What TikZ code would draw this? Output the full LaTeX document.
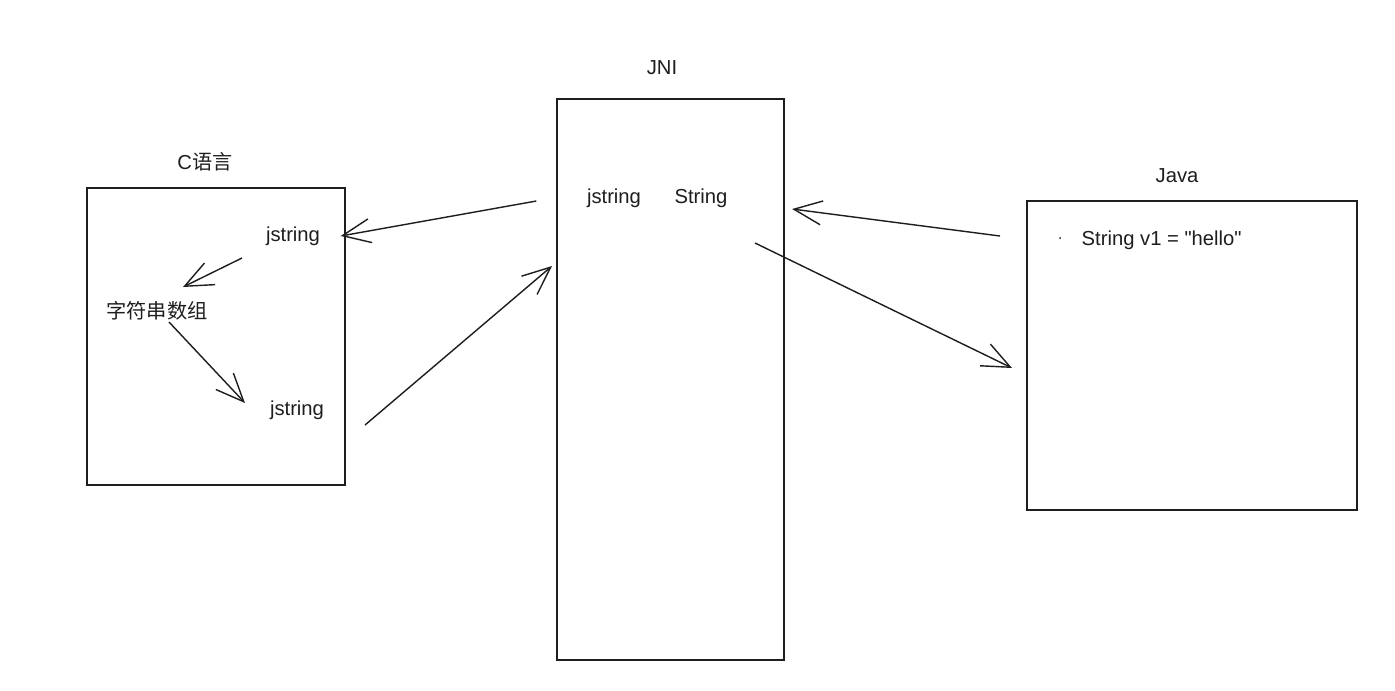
\documentclass[tikz,border=0pt]{standalone}
\usepackage{fontspec}
\setmainfont{Liberation Sans}[Ligatures=TeXOff]
\newfontfamily\cjk{Noto Sans CJK SC}
\usetikzlibrary{arrows.meta, positioning, calc}
\definecolor{ink}{HTML}{1E1E1E}
\tikzset{
  box/.style={draw=ink, line width=0.5pt, inner sep=0pt},
  lbl/.style={text=ink, inner sep=0pt, font=\fontsize{5.75pt}{6.9pt}\selectfont},
  link/.style={->, draw=ink, line width=0.4pt},
}

\begin{document}
\begin{tikzpicture}[x=0.01cm, y=-0.01cm, >={Straight Barb[length=2.8mm, width=2.4mm]}]

% Background
\useasboundingbox[fill=white] (0,0) rectangle (1395,690);

% C side
\node[box, minimum width=2.58cm, minimum height=2.97cm] (cbox) at (216,336.5) {};
\node[lbl] (ctitle) at (205,162) {C{\cjk 语言}};
\node[lbl] (cjs1) at (293,236) {jstring};
\node[lbl] (chars) at (157,311) {\cjk 字符串数组};
\node[lbl] (cjs2) at (297,410) {jstring};

% JNI
\node[box, minimum width=2.27cm, minimum height=5.61cm] (jni) at (670.5,379.5) {};
\node[lbl] (jnititle) at (662,68) {JNI};
\node[lbl] (jnijs) at (614,198) {jstring};
\node[lbl] (jnistr) at (701,198) {String};

% Java side
\node[box, minimum width=3.30cm, minimum height=3.09cm] (jv) at (1192,355.5) {};
\node[lbl] (jvtitle) at (1177,176) {Java};
\node[lbl, anchor=west] (code) at (1081,240) {String v1 = "hello"};
\fill[ink] (1060,238) circle (1);

% Arrows
\draw[link] ($(jnijs.west)+(-50,3)$) -- ($(cjs1.east)+(20,0)$);
\draw[link] ($(cjs1)+(-51,22)$) -- ($(chars)+(26,-24)$);
\draw[link] ($(chars)+(12,11)$) -- ($(cjs2)+(-52,-7)$);
\draw[link] ($(cjs2)+(68,15)$) -- ($(jnijs)+(-62,68)$);
\draw[link] ($(code.west)+(-81,-4)$) -- ($(jnistr.east)+(64,11)$);
\draw[link] ($(jnistr)+(54,45)$) -- ($(jv.west)+(-14,12.5)$);

\end{tikzpicture}
\end{document}
